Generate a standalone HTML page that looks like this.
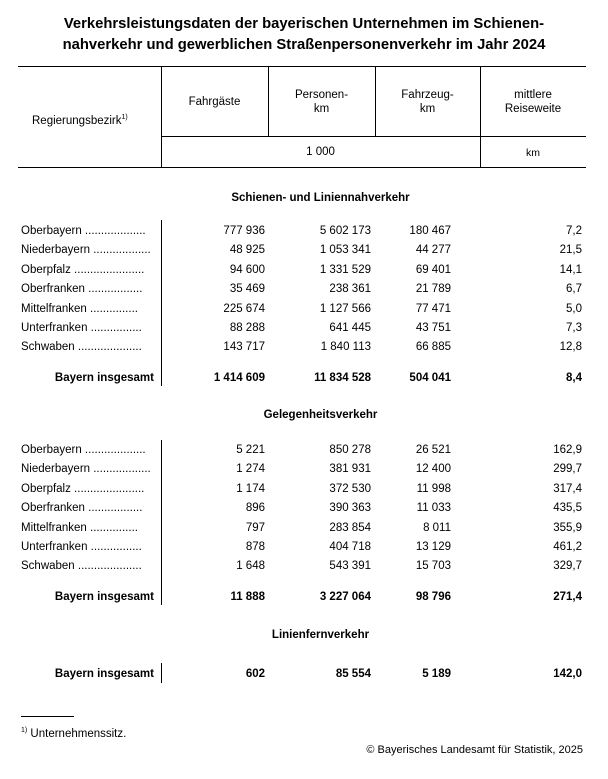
<!DOCTYPE html>
<html><head><meta charset="utf-8"><style>
body{margin:0;width:608px;height:779px;background:#fff;font-family:"Liberation Sans",Arial,sans-serif;color:#000;position:relative;overflow:hidden}
.a{position:absolute;white-space:nowrap;font-size:11.5px;line-height:14px}
.r{text-align:right}
.c{text-align:center}
.b{font-weight:bold}
.h{position:absolute;background:#000;height:1px}
.v{position:absolute;background:#000;width:1px}
</style></head><body>
<div class="a c b" style="left:0;width:608px;top:14px;font-size:14.8px;line-height:21px">Verkehrsleistungsdaten der bayerischen Unternehmen im Schienen-<br>nahverkehr und gewerblichen Straßenpersonenverkehr im Jahr 2024</div>
<div class="h" style="left:18px;width:568px;top:66px"></div>
<div class="h" style="left:161px;width:425px;top:136px"></div>
<div class="h" style="left:18px;width:568px;top:167px"></div>
<div class="v" style="left:161px;top:66px;height:101px"></div>
<div class="v" style="left:268px;top:66px;height:70px"></div>
<div class="v" style="left:375px;top:66px;height:70px"></div>
<div class="v" style="left:480px;top:66px;height:101px"></div>
<div class="a" style="left:32px;top:111px">Regierungsbezirk<sup style="font-size:7px">1)</sup></div>
<div class="a c" style="left:161px;width:107px;top:95px">Fahrgäste</div>
<div class="a c" style="left:268px;width:107px;top:88px">Personen-<br>km</div>
<div class="a c" style="left:375px;width:105px;top:88px">Fahrzeug-<br>km</div>
<div class="a c" style="left:480px;width:106px;top:88px">mittlere<br>Reiseweite</div>
<div class="a c" style="left:161px;width:319px;top:145px">1 000</div>
<div class="a c" style="left:480px;width:106px;top:146px;font-size:10.5px">km</div>
<div id="t"></div>
<div class="h" style="left:21px;width:53px;top:716px"></div>
<div class="a" style="left:21px;top:724px"><sup style="font-size:7px">1)</sup> Unternehmenssitz.</div>
<div class="a r" style="left:300px;width:283px;top:743px;font-size:11px">© Bayerisches Landesamt für Statistik, 2025</div>
<script>
var t=document.getElementById('t'),h='';
function row(y,n,d,v,bold){
 if(bold) h+='<div class="a b r" style="left:20px;width:134px;top:'+(y-7)+'px">'+n+'</div>';
 else h+='<div class="a" style="left:21px;top:'+(y-7)+'px">'+n+' '+d+'</div>';
 var rx=[265,371,451,582];
 for(var i=0;i<4;i++)h+='<div class="a r'+(bold?' b':'')+'" style="left:'+(rx[i]-120)+'px;width:120px;top:'+(y-7)+'px">'+v[i]+'</div>';
}
function sec(y,s){h+='<div class="a c b" style="left:161px;width:319px;top:'+(y-6)+'px">'+s+'</div>';}
var names=[["Oberbayern","..................."],["Niederbayern",".................."],["Oberpfalz","......................"],["Oberfranken","................."],["Mittelfranken","..............."],["Unterfranken","................"],["Schwaben","...................."]];
var d1=[["777 936","5 602 173","180 467","7,2"],["48 925","1 053 341","44 277","21,5"],["94 600","1 331 529","69 401","14,1"],["35 469","238 361","21 789","6,7"],["225 674","1 127 566","77 471","5,0"],["88 288","641 445","43 751","7,3"],["143 717","1 840 113","66 885","12,8"]];
var d2=[["5 221","850 278","26 521","162,9"],["1 274","381 931","12 400","299,7"],["1 174","372 530","11 998","317,4"],["896","390 363","11 033","435,5"],["797","283 854","8 011","355,9"],["878","404 718","13 129","461,2"],["1 648","543 391","15 703","329,7"]];
sec(197,"Schienen- und Liniennahverkehr");
for(var i=0;i<7;i++)row(231+i*19.4,names[i][0],names[i][1],d1[i]);
row(378,"Bayern insgesamt","",["1 414 609","11 834 528","504 041","8,4"],1);
h+='<div class="v" style="left:161px;top:220px;height:166px"></div>';
sec(414,"Gelegenheitsverkehr");
for(var i=0;i<7;i++)row(450+i*19.4,names[i][0],names[i][1],d2[i]);
row(597,"Bayern insgesamt","",["11 888","3 227 064","98 796","271,4"],1);
h+='<div class="v" style="left:161px;top:440px;height:165px"></div>';
sec(634,"Linienfernverkehr");
row(674,"Bayern insgesamt","",["602","85 554","5 189","142,0"],1);
h+='<div class="v" style="left:161px;top:663px;height:20px"></div>';
t.innerHTML=h;
</script>
</body></html>
